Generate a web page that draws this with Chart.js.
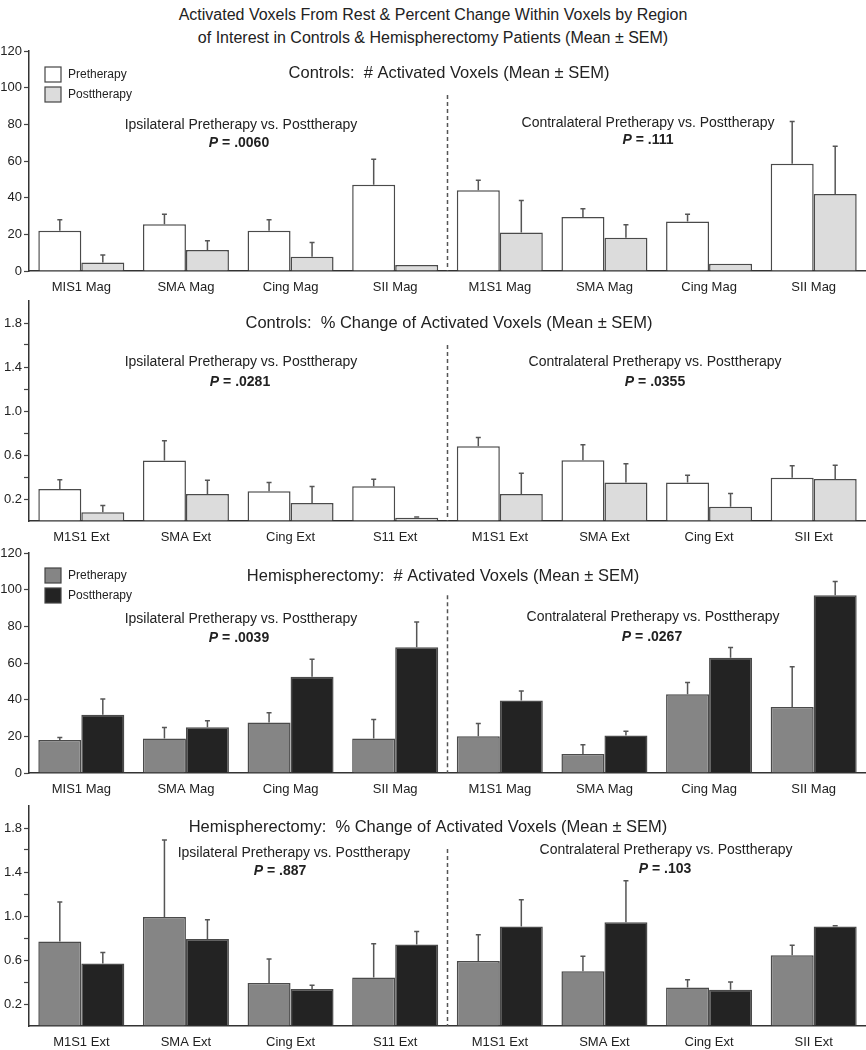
<!DOCTYPE html>
<html>
<head>
<meta charset="utf-8">
<script src="https://cdn.jsdelivr.net/npm/chart.js@4.4.1/dist/chart.umd.min.js"></script>
<style>
  body { margin: 0; background: #fff; width: 866px; height: 1050px; overflow: hidden; position: relative; font-family: "Liberation Sans", Arial, sans-serif; }
  #title { position: absolute; left: 0; top: 3px; width: 866px; text-align: center; font-size: 16px; line-height: 23px; color: #222; }
  canvas { position: absolute; left: 0; }
</style>
</head>
<body>
<div id="title">Activated Voxels From Rest &amp; Percent Change Within Voxels by Region<br>of Interest in Controls &amp; Hemispherectomy Patients (Mean ± SEM)</div>
<canvas id="c1" width="866" height="255" style="top:40px"></canvas>
<canvas id="c2" width="866" height="255" style="top:290px"></canvas>
<canvas id="c3" width="866" height="255" style="top:542px"></canvas>
<canvas id="c4" width="866" height="255" style="top:795px"></canvas>
<script>
// category labels (as printed in the figure)
const catsMag = ["MIS1 Mag", "SMA Mag", "Cing Mag", "SII Mag", "M1S1 Mag", "SMA Mag", "Cing Mag", "SII Mag"];
const catsExt = ["M1S1 Ext", "SMA Ext", "Cing Ext", "S11 Ext", "M1S1 Ext", "SMA Ext", "Cing Ext", "SII Ext"];

// Controls: # activated voxels
const ctrlVoxPre = [22, 25.5, 22, 47, 44, 29.5, 27, 58.5];
const ctrlVoxPreSem = [6, 5.5, 6, 14, 5.5, 4.5, 4, 23];
const ctrlVoxPost = [4.7, 11.5, 7.8, 3.3, 21, 18.2, 4, 42];
const ctrlVoxPostSem = [4, 5, 7.7, 0, 17.5, 7, 0, 26];

// Controls: % change
const ctrlPctPre = [0.29, 0.55, 0.27, 0.315, 0.68, 0.553, 0.35, 0.393];
const ctrlPctPreSem = [0.085, 0.18, 0.08, 0.065, 0.08, 0.14, 0.065, 0.11];
const ctrlPctPost = [0.08, 0.245, 0.163, 0.03, 0.245, 0.351, 0.13, 0.381];
const ctrlPctPostSem = [0.06, 0.125, 0.15, 0.006, 0.19, 0.17, 0.12, 0.125];

// Hemispherectomy: # activated voxels
const hemiVoxPre = [18, 18.8, 27.5, 18.8, 20, 10.4, 43, 36];
const hemiVoxPreSem = [1.3, 6, 5.3, 10.4, 7, 5, 6.4, 22];
const hemiVoxPost = [31.8, 25, 52.5, 68.6, 39.5, 20.4, 62.8, 97];
const hemiVoxPostSem = [8.6, 3.5, 9.5, 13.7, 5.2, 2.4, 5.7, 7.4];

// Hemispherectomy: % change
const hemiPctPre = [0.768, 0.99, 0.39, 0.44, 0.59, 0.498, 0.35, 0.644];
const hemiPctPreSem = [0.36, 0.7, 0.22, 0.307, 0.24, 0.137, 0.07, 0.09];
const hemiPctPost = [0.568, 0.79, 0.336, 0.74, 0.905, 0.944, 0.329, 0.905];
const hemiPctPostSem = [0.1, 0.175, 0.034, 0.12, 0.242, 0.376, 0.071, 0.006];

const voxTicks = [0, 20, 40, 60, 80, 100, 120];
const pctTicks = [0.2, 0.6, 1.0, 1.4, 1.8];

const FONT = "'Liberation Sans', Arial, sans-serif";
Chart.defaults.font.family = FONT;

function deco(cfg) {
  return {
    id: "deco",
    afterDatasetsDraw(chart) {
      const ctx = chart.ctx;
      const x = chart.scales.x;
      const y = chart.scales.y;
      ctx.save();
      // error bars (upper half only)
      ctx.strokeStyle = "#555";
      ctx.lineWidth = 1.5;
      chart.data.datasets.forEach((ds, di) => {
        chart.getDatasetMeta(di).data.forEach((bar, i) => {
          const sem = ds.sem[i];
          if (!sem) return;
          const top = y.getPixelForValue(ds.data[i] + sem);
          ctx.beginPath();
          ctx.moveTo(bar.x, bar.y);
          ctx.lineTo(bar.x, top);
          ctx.moveTo(bar.x - 2.5, top);
          ctx.lineTo(bar.x + 2.5, top);
          ctx.stroke();
        });
      });
      // dashed divider between ipsilateral and contralateral
      const dx = (x.getPixelForValue(3) + x.getPixelForValue(4)) / 2;
      ctx.setLineDash([4, 3]);
      ctx.strokeStyle = "#555";
      ctx.lineWidth = 1.5;
      ctx.beginPath();
      ctx.moveTo(dx, y.getPixelForValue(cfg.dividerTop));
      ctx.lineTo(dx, chart.chartArea.bottom);
      ctx.stroke();
      ctx.setLineDash([]);

      // texts
      ctx.fillStyle = "#222";
      ctx.textBaseline = "middle";
      ctx.textAlign = "center";
      ctx.font = `16.5px ${FONT}`;
      ctx.fillText(cfg.title, cfg.titlePos[0], cfg.titlePos[1]);
      ctx.font = `14px ${FONT}`;
      ctx.fillText("Ipsilateral Pretherapy vs. Posttherapy", cfg.ipsi[0], cfg.ipsi[1]);
      ctx.fillText("Contralateral Pretherapy vs. Posttherapy", cfg.contra[0], cfg.contra[1]);
      drawP(ctx, cfg.ipsiP, cfg.ipsi[2], cfg.ipsi[3]);
      drawP(ctx, cfg.contraP, cfg.contra[2], cfg.contra[3]);

      // legend
      if (cfg.legendY != null) {
        ctx.textAlign = "left";
        ctx.font = `12px ${FONT}`;
        chart.data.datasets.forEach((ds, di) => {
          const by = cfg.legendY + di * 20;
          ctx.fillStyle = ds.backgroundColor;
          ctx.fillRect(45, by, 16, 15);
          ctx.strokeStyle = "#444";
          ctx.lineWidth = 1.2;
          ctx.strokeRect(45, by, 16, 15);
          ctx.fillStyle = "#222";
          ctx.fillText(ds.label, 68, by + 8);
        });
      }
      ctx.restore();
    }
  };
}

function drawP(ctx, value, cx, cy) {
  const rest = ` = ${value}`;
  ctx.font = `italic bold 14px ${FONT}`;
  const wP = ctx.measureText("P").width;
  ctx.font = `bold 14px ${FONT}`;
  const wR = ctx.measureText(rest).width;
  const x0 = cx - (wP + wR) / 2;
  ctx.textAlign = "left";
  ctx.font = `italic bold 14px ${FONT}`;
  ctx.fillText("P", x0, cy);
  ctx.font = `bold 14px ${FONT}`;
  ctx.fillText(rest, x0 + wP, cy);
  ctx.textAlign = "center";
}

function makePanel(id, labels, pre, preSem, post, postSem, colors, isPct, cfg) {
  const shown = isPct ? pctTicks : voxTicks;
  new Chart(document.getElementById(id), {
    type: "bar",
    data: {
      labels: labels,
      datasets: [
        { label: "Pretherapy", data: pre, sem: preSem, backgroundColor: colors[0], borderColor: "#4a4a4a", borderWidth: 1.5 },
        { label: "Posttherapy", data: post, sem: postSem, backgroundColor: colors[1], borderColor: "#4a4a4a", borderWidth: 1.5 }
      ]
    },
    options: {
      responsive: false,
      animation: false,
      layout: { padding: { top: 11, left: 0, right: 0, bottom: 0 } },
      categoryPercentage: 0.822,
      barPercentage: 1,
      plugins: { legend: { display: false }, tooltip: { enabled: false } },
      scales: {
        x: {
          grid: { display: false, drawTicks: false },
          border: { color: "#333", width: 1.5 },
          ticks: { color: "#222", font: { size: 13 }, padding: 9, autoSkip: false, maxRotation: 0 },
          afterFit: s => { s.height = 24; }
        },
        y: {
          min: 0,
          max: isPct ? 2 : 120,
          grid: {
            drawOnChartArea: false,
            tickLength: 5,
            tickWidth: 1.2,
            tickColor: c => (isPct && (c.tick.value < 0.01 || c.tick.value > 1.99)) ? "rgba(0,0,0,0)" : "#444"
          },
          border: { color: "#333", width: 1.5 },
          ticks: {
            stepSize: isPct ? 0.2 : 20,
            autoSkip: false,
            color: "#222",
            font: { size: 13 },
            padding: 2,
            callback: v => {
              const hit = shown.some(t => Math.abs(t - v) < 1e-6);
              if (!hit) return "";
              return isPct ? v.toFixed(1) : String(v);
            }
          },
          afterFit: s => { s.width = 29; }
        }
      }
    },
    plugins: [deco(cfg)]
  });
}

const ctrlColors = ["#ffffff", "#dcdcdc"];
const hemiColors = ["#858585", "#232323"];

makePanel("c1", catsMag, ctrlVoxPre, ctrlVoxPreSem, ctrlVoxPost, ctrlVoxPostSem, ctrlColors, false, {
  title: "Controls:  # Activated Voxels (Mean ± SEM)", titlePos: [449, 33],
  ipsi: [241, 85, 239, 103], contra: [648, 83, 648, 100],
  ipsiP: ".0060", contraP: ".111", dividerTop: 96, legendY: 27
});
makePanel("c2", catsExt, ctrlPctPre, ctrlPctPreSem, ctrlPctPost, ctrlPctPostSem, ctrlColors, true, {
  title: "Controls:  % Change of Activated Voxels (Mean ± SEM)", titlePos: [449, 33],
  ipsi: [241, 72, 240, 92], contra: [655, 72, 655, 92],
  ipsiP: ".0281", contraP: ".0355", dividerTop: 1.6, legendY: null
});
makePanel("c3", catsMag, hemiVoxPre, hemiVoxPreSem, hemiVoxPost, hemiVoxPostSem, hemiColors, false, {
  title: "Hemispherectomy:  # Activated Voxels (Mean ± SEM)", titlePos: [443, 34],
  ipsi: [241, 77, 239, 96], contra: [653, 75, 652, 95],
  ipsiP: ".0039", contraP: ".0267", dividerTop: 97, legendY: 26
});
makePanel("c4", catsExt, hemiPctPre, hemiPctPreSem, hemiPctPost, hemiPctPostSem, hemiColors, true, {
  title: "Hemispherectomy:  % Change of Activated Voxels (Mean ± SEM)", titlePos: [428, 32],
  ipsi: [294, 58, 280, 76], contra: [666, 55, 665, 74],
  ipsiP: ".887", contraP: ".103", dividerTop: 1.61, legendY: null
});
</script>
</body>
</html>
